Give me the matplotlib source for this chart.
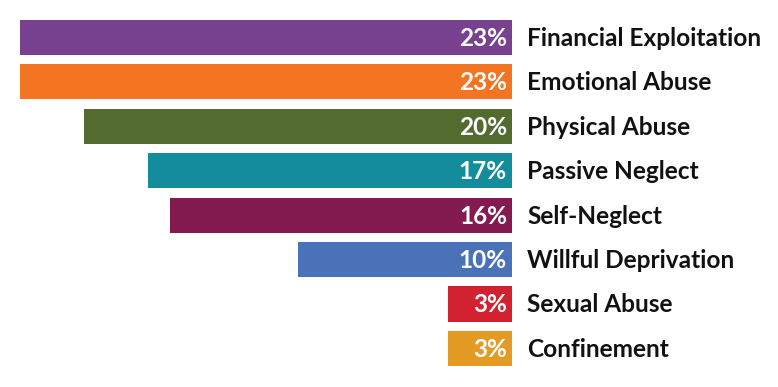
import matplotlib
matplotlib.use("Agg")
import matplotlib.pyplot as plt

categories = ["Financial Exploitation", "Emotional Abuse", "Physical Abuse", "Passive Neglect",
              "Self-Neglect", "Willful Deprivation", "Sexual Abuse", "Confinement"]
values = [23, 23, 20, 17, 16, 10, 3, 3]
colors = ["#77418F", "#F47521", "#546B30", "#138D9C", "#831A50", "#4A72B8", "#D2222F", "#E39B26"]

fig = plt.figure(figsize=(7.78, 3.87), dpi=100)
ax = fig.add_axes([0, 0, 1, 1])
ypos = list(range(len(categories)))
ax.barh(ypos, values, height=0.79, color=colors, edgecolor="none")
ax.set_xlim(23.94, -12.43)
ax.set_ylim(7.87, -0.845)
ax.axis("off")

for y, v, c in zip(ypos, values, categories):
    ax.annotate(f"{v}%", xy=(0, y), xytext=(-5, -1), textcoords="offset pixels",
                ha="right", va="center", color="white", fontsize=17.6,
                fontweight="bold", family="Lato")
    ax.annotate(c, xy=(0, y), xytext=(15, -1), textcoords="offset pixels",
                ha="left", va="center", color="#111111", fontsize=17.6,
                fontweight="bold", family="Lato")

fig.savefig("out.png", dpi=100)
